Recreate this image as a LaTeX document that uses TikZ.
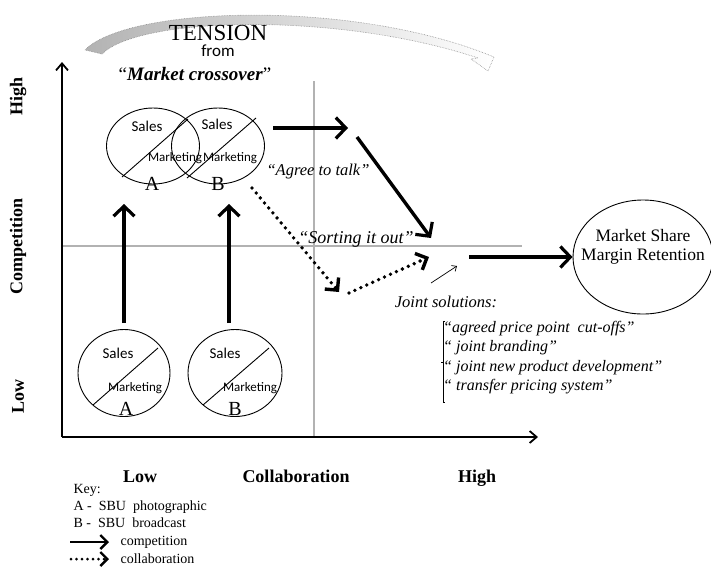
\documentclass[tikz,border=0pt]{standalone}
\usepackage{fontspec}
\setmainfont{Liberation Serif}
\newfontfamily\calibri{Carlito}
\usetikzlibrary{arrows.meta,shapes.geometric}
\begin{document}
\begin{tikzpicture}[x=1pt,y=-1pt,
  fs/.style={font=\fontsize{#1}{#1}\selectfont},
  sans/.style={font=\calibri\fontsize{#1}{#1}\selectfont},
  compet/.style={line width=3.4pt,-{Straight Barb[length=10pt,width=21pt,line width=3.2pt]}},
  collab/.style={line width=3.8pt,line cap=round,dash pattern=on 0pt off 6.5pt,
    -{Straight Barb[length=9pt,width=18pt,line width=3.4pt]}},
  axis/.style={line width=1.8pt,-{Straight Barb[length=7pt,width=12pt,line width=1.8pt]}},
  guide/.style={draw=black!30,line width=1.4pt},
  sbu/.style={ellipse,draw,line width=0.9pt,inner sep=0pt},
  sales/.style={sans=15},
  mkt/.style={sans=13},
  letter/.style={fs=20},
  axlab/.style={font=\fontsize{18}{18}\selectfont\bfseries},
  quote/.style={font=\fontsize{#1}{#1}\selectfont\itshape},
  keytxt/.style={fs=14,anchor=west}
]
\useasboundingbox (0,0) rectangle (711,571);

% tension band sweeping over the top of the chart
\shade[left color=black!30,right color=white,draw=black!45,densely dotted,line width=0.6pt]
  (85,50) .. controls (125,8) and (340,-2) .. (484,53)
  -- (494,57) -- (488,71) -- (471,59) -- (478,58)
  .. controls (340,12) and (140,16) .. (102,54) -- cycle;

\node[fs=23] (tension) at (218,33) {TENSION};
\node[sans=17] (from) at (218,51) {from};
\node[fs=19] (cross) at (195,74) {“\textbf{\textit{Market crossover}}”};

% axes and quadrant guides
\coordinate (o) at (62,437);
\coordinate (ytop) at (62,62);
\coordinate (xend) at (538,437);
\coordinate (gvt) at (314,81);
\coordinate (gvb) at (314,437);
\coordinate (ghl) at (62,246);
\coordinate (ghr) at (522,246);
\draw[guide] (gvt) -- (gvb);
\draw[guide] (ghl) -- (ghr);
\draw[axis] (o) -- (ytop);
\draw[axis] (o) -- (xend);

\node[axlab,rotate=90] (yhigh) at (18,96) {High};
\node[axlab,rotate=90] (ycomp) at (18,246) {Competition};
\node[axlab,rotate=90] (ylow) at (18,396) {Low};
\node[axlab,anchor=base] (xlow) at (140,482) {Low};
\node[axlab,anchor=base] (xcol) at (296,482) {Collaboration};
\node[axlab,anchor=base] (xhigh) at (477,482) {High};

% SBUs after the crossover (top)
\node[sbu,minimum width=93pt,minimum height=76pt] (tA) at (153,146) {};
\node[sbu,minimum width=93pt,minimum height=76pt] (tB) at (218,146) {};
\draw[line width=0.9pt] (122,177) -- (188,119);
\draw[line width=0.9pt] (187,178) -- (256,118);
\node[sales] (tAs) at (147,126) {Sales};
\node[sales] (tBs) at (217,124) {Sales};
\node[mkt] (tAm) at (175,158) {Marketing};
\node[mkt] (tBm) at (230,158) {Marketing};
\node[letter] (tAl) at (152,184) {A};
\node[letter] (tBl) at (218,184) {B};

% SBUs before (bottom)
\node[sbu,minimum width=92pt,minimum height=87pt] (bA) at (124,373) {};
\node[sbu,minimum width=94pt,minimum height=87pt] (bB) at (235,373) {};
\draw[line width=0.9pt] (93,405) -- (158,348);
\draw[line width=0.9pt] (203,405) -- (269,348);
\node[sales] (bAs) at (118,353) {Sales};
\node[sales] (bBs) at (225,353) {Sales};
\node[mkt] (bAm) at (135,388) {Marketing};
\node[mkt] (bBm) at (250,388) {Marketing};
\node[letter] (bAl) at (126,409) {A};
\node[letter] (bBl) at (235,409) {B};

% competition arrows
\coordinate (upA0) at (124,323);
\coordinate (upA1) at (124,204);
\coordinate (upB0) at (229,323);
\coordinate (upB1) at (229,204);
\draw[compet] (upA0) -- (upA1);
\draw[compet] (upB0) -- (upB1);
\coordinate (h0) at (273,128);
\coordinate (h1) at (348,128);
\draw[compet] (h0) -- (h1);
\coordinate (d0) at (357,137);
\coordinate (d1) at (431,238);
\draw[compet] (d0) -- (d1);

% collaboration arrows
\coordinate (c0) at (252,188);
\coordinate (c1) at (339,292);
\coordinate (c2) at (349,293);
\coordinate (c3) at (429,257);
\draw[collab] (c0) -- (c1);
\draw[collab] (c2) -- (c3);

\node[quote=16.5] (agree) at (318,172) {“Agree to talk”};
\node[quote=18] (sort) at (356,239) {“Sorting it out”};

% outcome
\node[ellipse,draw,line width=0.9pt,minimum width=140pt,minimum height=114pt,inner sep=0pt] (msm) at (643,257) {};
\node[fs=17.5,align=center] (msmt) at (643,247) {Market Share\\[1pt]Margin Retention};
\coordinate (o0) at (469,257);
\draw[compet] (o0) -- (msm.west);

% joint solutions
\coordinate (j0) at (431,283);
\coordinate (j1) at (457,266);
\draw[line width=0.7pt,-{Straight Barb[length=4pt,width=7pt]}] (j0) -- (j1);
\node[quote=16.5] (joint) at (446,302) {Joint solutions:};
\node[quote=16,anchor=north west,align=left,inner sep=0pt] (list) at (443,321)
  {“agreed price point\ \ cut-offs”\\[3.4pt]“ joint branding”\\[3.4pt]“ joint new product development”\\[3.4pt]“ transfer pricing system”};
\coordinate (br0) at (443,321);
\coordinate (br1) at (443,402);
\coordinate (brm) at (443,362);
\draw[line width=0.7pt] ([xshift=2pt]br0) -- (br0) -- (br1) -- ([xshift=2pt]br1);
\draw[line width=0.7pt] (brm) -- ([xshift=-2pt]brm);

% key
\node[keytxt] (key) at (70,490) {Key:};
\node[keytxt] (keyA) at (70,507) {A -\ \ SBU\ \ photographic};
\node[keytxt] (keyB) at (70,523) {B -\ \ SBU\ \ broadcast};
\coordinate (k0) at (70,542);
\coordinate (k1) at (109,542);
\draw[line width=2.6pt,-{Straight Barb[length=7pt,width=14pt,line width=2.4pt]}] (k0) -- (k1);
\node[keytxt] (kcomp) at (117,542) {competition};
\coordinate (k2) at (71,559);
\coordinate (k3) at (109,559);
\draw[line width=3pt,line cap=round,dash pattern=on 0pt off 5.5pt,-{Straight Barb[length=7pt,width=14pt,line width=2.4pt]}] (k2) -- (k3);
\node[keytxt] (kcol) at (117,559) {collaboration};
\end{tikzpicture}
\end{document}
